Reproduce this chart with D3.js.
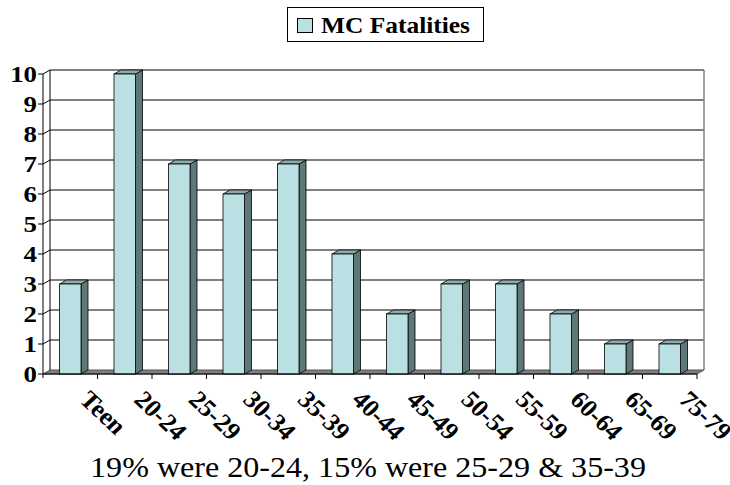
<!DOCTYPE html>
<html>
<head>
<meta charset="utf-8">
<script src="https://cdn.jsdelivr.net/npm/d3@7"></script>
<style>
  body { margin: 0; background: #fff; }
  svg { display: block; }
</style>
</head>
<body>
<svg id="chart" width="730" height="485"></svg>
<script>
// age groups and MC fatality counts
var categories = ["Teen", "20-24", "25-29", "30-34", "35-39", "40-44", "45-49", "50-54", "55-59", "60-64", "65-69", "75-79"];
var fatalities = [3, 10, 7, 6, 7, 4, 2, 3, 3, 2, 1, 1];
var yTicks = [0, 1, 2, 3, 4, 5, 6, 7, 8, 9, 10];
var seriesName = "MC Fatalities";
var caption = "19% were 20-24, 15% were 25-29 & 35-39";

var FONT = "Liberation Serif";

var svg = d3.select("#chart");

// front plane of the plot and the depth offset of the 3d look
var plotLeft = 43, plotRight = 697, plotTop = 74, plotBottom = 374;
var dx = 7, dy = -4;
var stretch = 1.07; // text in the picture is a bit wider than normal

var x = d3.scaleBand()
    .domain(categories)
    .range([plotLeft, plotRight])
    .paddingInner(0.605)
    .paddingOuter(0.3025);

var y = d3.scaleLinear()
    .domain([0, 10])
    .range([plotBottom, plotTop]);

var step = x.step(), bw = x.bandwidth();

// floor
svg.append("polygon")
    .attr("points", [[plotLeft, plotBottom], [plotRight, plotBottom], [plotRight + dx, plotBottom + dy], [plotLeft + dx, plotBottom + dy]].join(" "))
    .attr("fill", "#7f7f7f")
    .attr("stroke", "#555")
    .attr("stroke-width", 1);

// gridlines on back wall + left wall
var grid = svg.append("g").attr("class", "grid");
yTicks.forEach(function(v) {
    if (v == 0) return;
    grid.append("line")
        .attr("x1", plotLeft + dx).attr("x2", plotRight + dx)
        .attr("y1", y(v) + dy).attr("y2", y(v) + dy)
        .attr("stroke", "#000").attr("stroke-width", 1);
    grid.append("line")
        .attr("x1", plotLeft).attr("x2", plotLeft + dx)
        .attr("y1", y(v)).attr("y2", y(v) + dy)
        .attr("stroke", "#000").attr("stroke-width", 1);
});

// back wall edges
svg.append("line")
    .attr("x1", plotLeft + dx).attr("x2", plotLeft + dx)
    .attr("y1", y(10) + dy).attr("y2", y(0) + dy)
    .attr("stroke", "#000");
svg.append("line")
    .attr("x1", plotRight + dx).attr("x2", plotRight + dx)
    .attr("y1", y(10) + dy).attr("y2", y(0) + dy)
    .attr("stroke", "#808080").attr("stroke-width", 1.5);

// bars
var bars = svg.append("g").attr("class", "bars")
    .selectAll("g")
    .data(categories)
    .enter().append("g");

bars.append("polygon") // side
    .attr("points", function(d, i) {
        var x1 = x(d) + bw, yt = y(fatalities[i]);
        return [[x1, yt], [x1 + dx, yt + dy], [x1 + dx, plotBottom + dy], [x1, plotBottom]].join(" ");
    })
    .attr("fill", "#5e7878").attr("stroke", "#000").attr("stroke-width", 0.8);

bars.append("polygon") // top
    .attr("points", function(d, i) {
        var x0 = x(d), yt = y(fatalities[i]);
        return [[x0, yt], [x0 + dx, yt + dy], [x0 + bw + dx, yt + dy], [x0 + bw, yt]].join(" ");
    })
    .attr("fill", "#8eaaaa").attr("stroke", "#000").attr("stroke-width", 0.8);

bars.append("rect") // front
    .attr("x", function(d) { return x(d); })
    .attr("y", function(d, i) { return y(fatalities[i]); })
    .attr("width", bw)
    .attr("height", function(d, i) { return plotBottom - y(fatalities[i]); })
    .attr("fill", "#bbe0e3").attr("stroke", "#000").attr("stroke-width", 0.8);

// y axis
svg.append("line")
    .attr("x1", plotLeft).attr("x2", plotLeft)
    .attr("y1", y(10)).attr("y2", plotBottom + 4)
    .attr("stroke", "#000");

var yAx = svg.append("g").attr("class", "y-axis");
yTicks.forEach(function(v) {
    yAx.append("line")
        .attr("x1", plotLeft - 5).attr("x2", plotLeft)
        .attr("y1", y(v)).attr("y2", y(v))
        .attr("stroke", "#000");
    yAx.append("text")
        .attr("transform", "translate(37," + (y(v) + 8) + ") scale(1.12,1)")
        .attr("text-anchor", "end")
        .attr("font-family", FONT)
        .attr("font-size", 24)
        .attr("font-weight", "bold")
        .text(v);
});

// x axis
svg.append("line")
    .attr("x1", plotLeft).attr("x2", plotRight)
    .attr("y1", plotBottom).attr("y2", plotBottom)
    .attr("stroke", "#000");

categories.forEach(function(d) {
    var tx = x(d) + bw / 2 + step / 2;
    svg.append("line")
        .attr("x1", tx).attr("x2", tx)
        .attr("y1", plotBottom).attr("y2", plotBottom + 5)
        .attr("stroke", "#000");
});

svg.append("g").attr("class", "x-labels")
    .selectAll("text")
    .data(categories)
    .enter().append("text")
    .attr("transform", function(d) {
        return "translate(" + (x(d) + bw / 2 + 8) + ",401) scale(" + stretch + ",1) rotate(45)";
    })
    .attr("font-family", FONT)
    .attr("font-size", 24.5)
    .attr("font-weight", "bold")
    .text(function(d) { return d; });

// legend
var legend = svg.append("g").attr("class", "legend");
legend.append("rect")
    .attr("x", 287.5).attr("y", 7.5).attr("width", 196).attr("height", 34)
    .attr("fill", "#fff").attr("stroke", "#000");
legend.append("rect")
    .attr("x", 297.5).attr("y", 18.5).attr("width", 15).attr("height", 14)
    .attr("fill", "#bbe0e3").attr("stroke", "#000");
legend.append("text")
    .attr("transform", "translate(321,33) scale(1.06,1)")
    .attr("font-family", FONT)
    .attr("font-size", 24)
    .attr("font-weight", "bold")
    .text(seriesName);

// caption
svg.append("text")
    .attr("transform", "translate(368,477) scale(" + stretch + ",1)")
    .attr("text-anchor", "middle")
    .attr("font-family", FONT)
    .attr("font-size", 30)
    .text(caption);
</script>
</body>
</html>
